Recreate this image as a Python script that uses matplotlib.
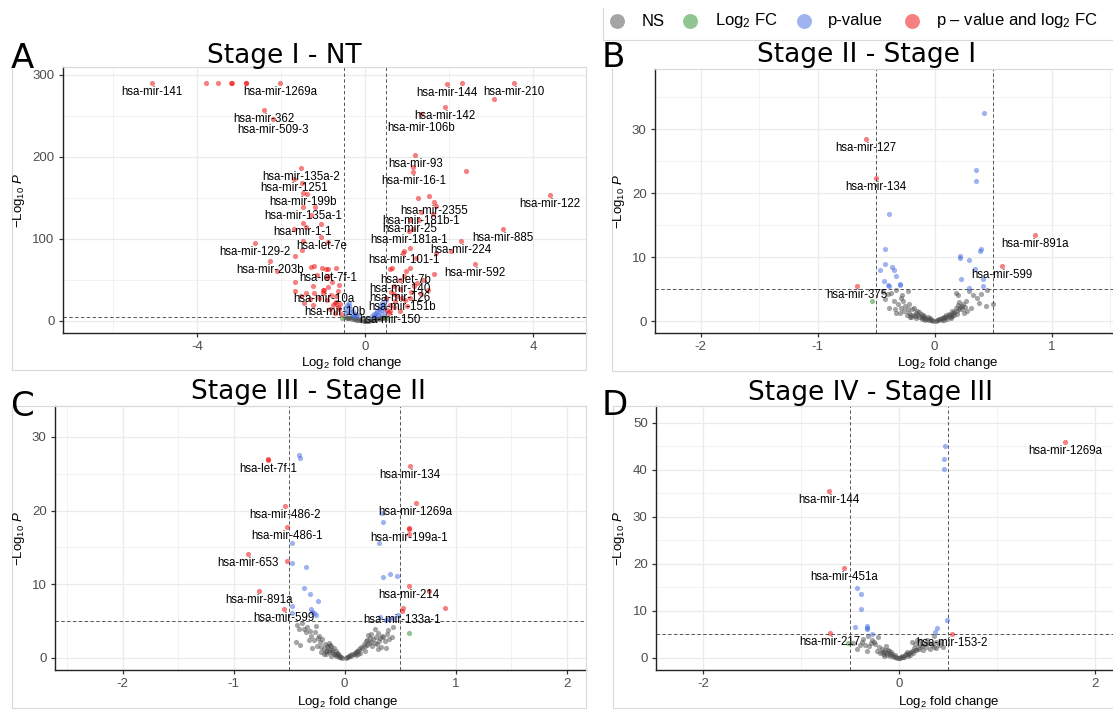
import matplotlib.pyplot as plt
import matplotlib.lines as mlines

plt.rcParams['font.family'] = ['Liberation Sans', 'DejaVu Sans']
plt.rcParams['mathtext.fontset'] = 'custom'
plt.rcParams['mathtext.rm'] = 'Liberation Sans'
plt.rcParams['mathtext.it'] = 'Liberation Sans:italic'
plt.rcParams['axes.unicode_minus'] = False

W, H = 1113, 709
COLOURS = {'ns': '#4D4D4D', 'fc': '#228B22', 'p': '#4169E1', 'both': '#EE0000'}
LEGEND_LABELS = ['NS', 'Log$_2$ FC', 'p-value', 'p – value and log$_2$ FC']

# ---------------- A: Stage I - NT ----------------
a_lab_names = ['hsa-mir-141', 'hsa-mir-1269a', 'hsa-mir-362', 'hsa-mir-509-3', 'hsa-mir-144',
               'hsa-mir-210', 'hsa-mir-142', 'hsa-mir-106b', 'hsa-mir-93', 'hsa-mir-16-1',
               'hsa-mir-122', 'hsa-mir-135a-2', 'hsa-mir-1251', 'hsa-mir-199b', 'hsa-mir-135a-1',
               'hsa-mir-1-1', 'hsa-let-7e', 'hsa-mir-129-2', 'hsa-mir-203b', 'hsa-let-7f-1',
               'hsa-mir-10a', 'hsa-mir-10b', 'hsa-mir-2355', 'hsa-mir-181b-1', 'hsa-mir-25',
               'hsa-mir-181a-1', 'hsa-mir-885', 'hsa-mir-224', 'hsa-mir-592', 'hsa-mir-101-1',
               'hsa-let-7b', 'hsa-mir-140', 'hsa-mir-126', 'hsa-mir-151b', 'hsa-mir-150']
a_lab_x = [-5.08, -2.03, -2.42, -2.19, 1.93, 3.54, 1.89, 1.32, 1.19, 1.14,
           4.40, -1.53, -1.71, -1.49, -1.48, -1.49, -1.05, -2.64, -2.28, -0.89,
           -1.00, -0.73, 1.64, 1.32, 1.05, 1.03, 3.28, 2.28, 2.60, 0.91,
           0.96, 0.82, 0.82, 0.87, 0.59]
a_lab_y = [290, 290, 257, 246, 289, 290, 261, 252, 203, 182,
           154, 187, 173, 156, 139, 119, 102, 95.5, 73, 63,
           38, 22, 145, 133, 123, 110, 112, 97, 70, 85,
           61, 50, 39, 28, 12]
a_both_x = [-3.79, -3.50, -3.19, -3.17, -2.85, -2.84, 2.30, 3.07, 1.14, 2.40,
            -1.52, -1.40, -1.19, -1.30, -1.07, -1.41, -1.71, -1.49, -0.89, -1.50, -1.67, -2.11,
            -1.30, -1.22, -1.03, -0.95, -0.70, -0.88, -1.15, -0.92, -1.67, -1.25, -0.90, -0.98,
            -0.62, -1.68, -1.42, -1.22, -1.02, -0.82, -0.69, -1.53, -1.33, -0.92, -0.71, -0.60,
            -1.25, -0.78, -0.65, -0.72, -0.64, -1.10, -0.80, -0.66, -1.47, -0.85, -0.58,
            1.25, 1.51, 1.69, 1.60, 1.28, 1.12, 1.05, 0.89, 1.69, 2.03, 1.21, 0.59, 0.62, 1.05,
            1.64, 1.22, 0.68, 1.09, 0.68, 1.32, 1.50, 0.50, 1.06, 0.68, 0.82, 0.52, 0.58, 0.95,
            0.75, 1.15, 0.92, 1.38, 0.60, 0.70, 1.00, 0.55]
a_both_y = [290, 290, 290, 290, 290, 290, 290, 271, 188, 183,
            168, 155, 139, 129, 118, 114, 112, 97, 96, 87, 79, 61,
            66, 67, 64, 63, 65, 55, 56, 52, 48, 42, 41, 38,
            44, 37, 34, 34, 34, 31, 30, 30, 27, 25, 23, 21,
            19, 19, 17, 10, 14, 28, 48, 36, 22, 15, 8,
            150, 152, 140, 131, 123, 112, 89, 83, 83, 85, 77, 63, 64, 64,
            57, 46, 42, 35, 33, 33, 38, 28, 28, 17.5, 12, 13, 20, 25,
            30, 42, 55, 50, 35, 24, 18, 10]
a_p_x = [-0.45, -0.40, -0.35, -0.30, -0.25, -0.20, -0.42, -0.48, -0.38, -0.33, -0.46, -0.28, -0.22,
         0.15, 0.20, 0.25, 0.28, 0.32, 0.35, 0.40, 0.45, 0.48, 0.38, 0.30, 0.42, 0.22, 0.46, 0.36]
a_p_y = [20, 18, 15, 12, 9, 7, 12, 16, 22, 8, 10, 6, 5.5,
         6, 8, 10, 12, 15, 18, 22, 20, 25, 13, 7, 16, 5.5, 11, 9]
a_fc_x = [-0.56, 0.52]
a_fc_y = [4.0, 3.6]
a_ns_x = [-0.48, -0.42, -0.38, -0.32, -0.28, -0.22, -0.18, -0.12, -0.08, -0.04, 0.0, 0.04, 0.08,
          0.12, 0.16, 0.20, 0.24, 0.28, 0.32, 0.36, 0.40, 0.44, -0.45, -0.35, -0.25, 0.25, 0.35,
          0.45, -0.15, 0.15]
a_ns_y = [4.5, 4.0, 3.2, 2.5, 2.2, 1.6, 1.2, 0.8, 0.5, 0.2, 0.05, 0.2, 0.4,
          0.8, 1.2, 1.6, 2.0, 2.6, 3.0, 3.5, 4.0, 4.5, 3.0, 4.5, 3.0, 4.0, 2.0,
          3.0, 2.0, 2.5]

# ---------------- B: Stage II - Stage I ----------------
b_lab_names = ['hsa-mir-127', 'hsa-mir-134', 'hsa-mir-891a', 'hsa-mir-599', 'hsa-mir-375']
b_lab_x = [-0.588, -0.503, 0.858, 0.574, -0.662]
b_lab_y = [28.4, 22.3, 13.4, 8.65, 5.54]
b_both_x = []
b_both_y = []
b_p_x = [0.42, 0.358, 0.355, -0.386, -0.423, 0.398, 0.392, 0.219, 0.219, 0.298, -0.42, -0.463,
         -0.364, -0.347, -0.33, 0.349, 0.224, 0.412, -0.432, -0.40, -0.39, -0.30, -0.298, 0.29, 0.41]
b_p_y = [32.5, 23.6, 21.9, 16.8, 11.3, 11.3, 10.9, 10.2, 9.8, 9.6, 8.96, 8.0,
         8.5, 7.9, 7.0, 8.1, 6.5, 6.5, 6.2, 5.6, 5.5, 5.8, 5.7, 5.1, 5.5]
b_fc_x = [-0.531]
b_fc_y = [3.1]
b_ns_x = [-0.44, -0.40, -0.37, -0.33, -0.28, -0.23, -0.39, -0.34, -0.30, -0.27, -0.18, -0.31,
          -0.25, -0.22, -0.20, -0.17, -0.15, -0.13, -0.12, -0.10, -0.09, -0.07, -0.05, -0.04,
          -0.02, -0.21, -0.19, -0.26, -0.35, -0.42, -0.29, -0.16, -0.11, -0.08, -0.24,
          0.01, 0.03, 0.05, 0.07, 0.09, 0.10, 0.12, 0.13, 0.15, 0.16, 0.18, 0.19, 0.20, 0.21,
          0.22, 0.18, 0.20, 0.33, 0.27, 0.40, 0.44, 0.50, 0.25, 0.23, 0.14, 0.11, 0.29, 0.31,
          0.36, 0.38, 0.08, 0.06, 0.24, 0.17, 0.45,
          -0.20, -0.18, -0.16, -0.14, -0.13, -0.11, -0.10, -0.08, -0.06, -0.05, -0.03, -0.01,
          0.02, 0.04, 0.06, 0.08, 0.10, 0.12, 0.14, 0.15, 0.17, 0.19, 0.21, 0.23, -0.23, -0.22,
          -0.29, -0.33, 0.26, 0.28]
b_ns_y = [4.5, 4.2, 4.4, 4.9, 4.0, 4.7, 2.1, 1.8, 1.3, 3.1, 2.1, 2.6,
          2.4, 1.3, 1.0, 0.8, 1.6, 0.6, 1.1, 0.4, 0.8, 0.3, 0.2, 0.5,
          0.1, 0.7, 1.8, 1.6, 3.2, 3.5, 3.6, 0.5, 0.3, 0.2, 0.9,
          0.05, 0.2, 0.3, 0.5, 0.6, 0.9, 1.1, 0.7, 1.5, 1.2, 2.0, 1.6, 2.5, 3.0,
          2.2, 4.4, 4.1, 4.0, 3.1, 4.2, 2.4, 2.7, 1.3, 1.9, 0.4, 0.3, 4.7, 2.0,
          3.6, 2.8, 0.2, 0.1, 2.7, 0.9, 4.8,
          0.6, 0.9, 1.3, 0.9, 1.4, 0.7, 1.0, 0.5, 0.6, 0.35, 0.2, 0.05,
          0.1, 0.25, 0.4, 0.6, 0.55, 0.9, 1.0, 0.8, 1.4, 1.1, 1.8, 2.4, 1.9, 2.7,
          2.0, 1.2, 2.2, 1.6]

# ---------------- C: Stage III - Stage II ----------------
c_lab_names = ['hsa-let-7f-1', 'hsa-mir-134', 'hsa-mir-1269a', 'hsa-mir-486-2', 'hsa-mir-486-1',
               'hsa-mir-199a-1', 'hsa-mir-653', 'hsa-mir-891a', 'hsa-mir-214', 'hsa-mir-599',
               'hsa-mir-133a-1']
c_lab_x = [-0.69, 0.59, 0.64, -0.54, -0.52, 0.58, -0.87, -0.77, 0.58, -0.55, 0.52]
c_lab_y = [26.9, 26.1, 21.1, 20.6, 17.8, 17.5, 14.1, 9.05, 9.8, 6.6, 6.4]
c_both_x = [-0.69, 0.58, 0.58, -0.52, 0.76, 0.90, 0.53]
c_both_y = [27.0, 17.6, 16.8, 13.2, 9.1, 6.8, 6.8]
c_p_x = [-0.41, -0.40, 0.35, 0.34, -0.47, 0.31, -0.47, -0.35, 0.35, 0.41, 0.47, -0.37, -0.31,
         -0.24, -0.47, -0.47, -0.30, -0.28, -0.26, -0.29, 0.32, 0.37, 0.40, 0.44, 0.48]
c_p_y = [27.6, 27.2, 18.5, 19.7, 15.6, 15.6, 12.9, 12.3, 11.0, 11.4, 11.1, 9.5, 8.7,
         7.7, 7.1, 6.1, 6.6, 6.1, 5.8, 6.3, 5.5, 5.2, 5.3, 5.4, 5.8]
c_fc_x = [0.58]
c_fc_y = [3.4]
c_ns_x = [-0.43, -0.38, -0.37, -0.31, -0.35, -0.27, -0.44, -0.40, -0.32, -0.28, -0.22, -0.25,
          -0.20, -0.18, -0.15, -0.13, -0.11, -0.09, -0.07, -0.05, -0.03, -0.16, -0.19, -0.14,
          -0.12, -0.10, -0.08, -0.06, -0.23, -0.29, -0.17, -0.21, -0.26, -0.41, -0.12,
          0.01, 0.03, 0.05, 0.07, 0.09, 0.11, 0.13, 0.15, 0.17, 0.19, 0.20, 0.21, 0.24, 0.26,
          0.28, 0.30, 0.32, 0.34, 0.36, 0.38, 0.40, 0.43, 0.44, 0.39, 0.22, 0.25, 0.29, 0.18,
          0.14, 0.10, 0.33, 0.37, 0.27, 0.23, 0.12,
          -0.19, -0.17, -0.16, -0.14, -0.13, -0.11, -0.10, -0.08, -0.07, -0.05, -0.04, -0.02,
          0.02, 0.04, 0.06, 0.08, 0.10, 0.12, 0.16, 0.18, 0.20, 0.24, 0.27, 0.31, 0.35, 0.30,
          -0.21, -0.24, -0.30, -0.34]
c_ns_y = [4.5, 4.7, 4.0, 3.7, 3.5, 3.5, 2.2, 1.7, 2.5, 2.4, 2.2, 1.6,
          2.6, 1.9, 1.5, 1.1, 0.8, 0.6, 0.4, 0.2, 0.1, 0.9, 1.2, 2.0,
          1.6, 1.3, 0.9, 0.5, 3.0, 1.3, 0.5, 0.8, 4.4, 3.9, 0.3,
          0.05, 0.2, 0.4, 0.5, 0.7, 0.9, 1.2, 1.5, 1.9, 2.3, 2.4, 3.1, 3.3, 2.6,
          2.9, 3.4, 2.7, 3.0, 2.3, 3.2, 2.6, 2.9, 4.2, 3.8, 2.0, 1.6, 1.9, 1.0,
          0.7, 0.4, 1.5, 1.4, 3.9, 2.7, 0.5,
          0.6, 1.0, 1.6, 0.8, 1.8, 1.1, 0.5, 0.3, 0.7, 0.4, 0.15, 0.05,
          0.1, 0.3, 0.3, 0.6, 0.8, 0.9, 1.3, 1.6, 1.8, 2.2, 2.0, 2.3, 2.8, 1.2,
          1.5, 2.7, 3.0, 4.2]

# ---------------- D: Stage IV - Stage III ----------------
d_lab_names = ['hsa-mir-1269a', 'hsa-mir-144', 'hsa-mir-451a', 'hsa-mir-217', 'hsa-mir-153-2']
d_lab_x = [1.69, -0.713, -0.564, -0.71, 0.537]
d_lab_y = [46.0, 35.5, 19.2, 5.36, 5.2]
d_both_x = []
d_both_y = []
d_p_x = [0.469, 0.452, 0.452, -0.43, -0.387, -0.39, -0.455, -0.33, -0.33, -0.33, 0.49, 0.39,
         0.37, -0.28]
d_p_y = [45.0, 42.2, 40.1, 14.9, 13.5, 10.4, 6.6, 6.9, 6.4, 6.1, 8.0, 6.3,
         5.6, 5.1]
d_fc_x = [-0.52]
d_fc_y = [3.1]
d_ns_x = [-0.47, -0.37, -0.32, -0.22, -0.26, -0.31, -0.23, -0.18, -0.15, -0.11, -0.09, -0.06,
          -0.03, 0.0, 0.02, 0.06, 0.09, 0.13, 0.16, 0.19, 0.23, 0.26, 0.31, 0.35,
          0.41, 0.45, 0.35, 0.21, 0.18, -0.40, -0.33, -0.20, -0.16, -0.13, 0.13, 0.16,
          0.28, -0.28, -0.12, 0.04, 0.11, 0.08, -0.08, 0.24, 0.30, 0.38, -0.43, -0.35,
          -0.18, -0.16, -0.14, -0.12, -0.10, -0.09, -0.07, -0.05, -0.04, -0.02, 0.01, 0.03,
          0.05, 0.07, 0.09, 0.10, 0.12, 0.14, 0.15, 0.17, 0.20, 0.22, -0.21, -0.25, 0.27, 0.33,
          0.38, -0.38, -0.29, 0.43]
d_ns_y = [3.2, 4.1, 4.7, 4.4, 3.4, 2.5, 1.5, 2.0, 1.2, 1.7, 0.8, 0.4,
          0.2, 0.05, 0.3, 0.6, 0.9, 1.5, 1.8, 2.2, 2.5, 2.9, 2.0, 2.4,
          2.8, 2.4, 4.7, 3.6, 3.8, 2.7, 1.5, 1.0, 0.4, 2.5, 3.4, 2.9,
          3.8, 3.9, 0.6, 0.15, 0.6, 1.2, 1.3, 1.6, 3.1, 2.1, 1.9, 2.8,
          1.3, 0.9, 1.6, 1.0, 1.4, 0.5, 0.9, 0.3, 0.6, 0.1, 0.1, 0.4,
          0.3, 0.8, 0.5, 1.1, 1.3, 1.0, 2.1, 1.6, 1.9, 2.8, 2.3, 2.9, 2.3, 2.7,
          3.3, 3.3, 3.2, 3.5]

# label text sits this many pixels under its point; a few were pushed further by the repel
LABEL_DROP = 9
LABEL_DROP_EXTRA = {'hsa-mir-106b': 14, 'hsa-mir-509-3': 11}

# layout, in pixels of the 1113x709 picture
PANELS = [
    dict(name='A', title='Stage I - NT', ax=(63, 67, 586, 333),
         xlim=(-7.2, 5.25), ylim=(-14.75, 309.75),
         xt=[-4, 0, 4], xm=[-6, -2, 2], yt=[0, 100, 200, 300], ym=[50, 150, 250],
         title_at=(284.5, 63), letter_at=(11, 68), xlab_at=(352, 363), ylab_at=(19, 200),
         ns=(a_ns_x, a_ns_y), fc=(a_fc_x, a_fc_y), p=(a_p_x, a_p_y),
         both=(a_both_x + a_lab_x, a_both_y + a_lab_y), labels=(a_lab_names, a_lab_x, a_lab_y)),
    dict(name='B', title='Stage II - Stage I', ax=(655, 69, 1113, 333),
         xlim=(-2.39, 1.525), ylim=(-1.875, 39.4),
         xt=[-2, -1, 0, 1], xm=[-1.5, -0.5, 0.5, 1.5], yt=[0, 10, 20, 30], ym=[5, 15, 25, 35],
         title_at=(867, 62), letter_at=(602, 67), xlab_at=(948, 363), ylab_at=(619, 201),
         ns=(b_ns_x, b_ns_y), fc=(b_fc_x, b_fc_y), p=(b_p_x, b_p_y),
         both=(b_both_x + b_lab_x, b_both_y + b_lab_y), labels=(b_lab_names, b_lab_x, b_lab_y)),
    dict(name='C', title='Stage III - Stage II', ax=(55, 406, 586, 670),
         xlim=(-2.61, 2.175), ylim=(-1.63, 34.2),
         xt=[-2, -1, 0, 1, 2], xm=[-2.5, -1.5, -0.5, 0.5, 1.5], yt=[0, 10, 20, 30], ym=[5, 15, 25],
         title_at=(308, 399), letter_at=(10, 416), xlab_at=(348, 702), ylab_at=(19, 538),
         ns=(c_ns_x, c_ns_y), fc=(c_fc_x, c_fc_y), p=(c_p_x, c_p_y),
         both=(c_both_x + c_lab_x, c_both_y + c_lab_y), labels=(c_lab_names, c_lab_x, c_lab_y)),
    dict(name='D', title='Stage IV - Stage III', ax=(656, 406, 1113, 670),
         xlim=(-2.48, 2.18), ylim=(-2.55, 53.55),
         xt=[-2, 0, 2], xm=[-1, 1], yt=[0, 10, 20, 30, 40, 50], ym=[5, 15, 25, 35, 45],
         title_at=(871, 400), letter_at=(602, 415), xlab_at=(949, 702), ylab_at=(619, 538),
         ns=(d_ns_x, d_ns_y), fc=(d_fc_x, d_fc_y), p=(d_p_x, d_p_y),
         both=(d_both_x + d_lab_x, d_both_y + d_lab_y), labels=(d_lab_names, d_lab_x, d_lab_y)),
]

BORDERS = [
    [(12, 67), (12, 370), (586, 370), (586, 67)],
    [(612, 68), (612, 371), (1113, 371)],
    [(586, 406), (12, 406), (12, 708), (586, 708), (586, 406)],
    [(1113, 406), (613, 406), (613, 708), (1113, 708)],
    [(603, 8), (603, 40), (1113, 40)],
]
LIGHT = '#D9D9D9'


def fx(px):
    return px / W


def fy(py):
    return 1 - py / H


fig = plt.figure(figsize=(W / 100, H / 100), dpi=100)

for pts in BORDERS:
    fig.add_artist(mlines.Line2D([fx(p[0]) for p in pts], [fy(p[1]) for p in pts],
                                 color=LIGHT, lw=0.8))

for pan in PANELS:
    l, t, r, b = pan['ax']
    ax = fig.add_axes([fx(l), fy(b), (r - l) / W, (b - t) / H])
    ax.set_xlim(*pan['xlim'])
    ax.set_ylim(*pan['ylim'])
    ax.set_xticks(pan['xt'])
    ax.set_xticks(pan['xm'], minor=True)
    ax.set_yticks(pan['yt'])
    ax.set_yticks(pan['ym'], minor=True)
    ax.grid(which='major', color='#EBEBEB', lw=0.9, zorder=0)
    ax.grid(which='minor', color='#EBEBEB', lw=0.45, zorder=0)
    ax.set_axisbelow(True)
    ax.tick_params(which='minor', length=0)
    ax.tick_params(which='major', length=3, width=0.9, color='#333333', labelcolor='#4D4D4D',
                   labelsize=9.5, pad=3)
    for side in ('left', 'bottom'):
        ax.spines[side].set_color('#222222')
        ax.spines[side].set_linewidth(1.0)
    ax.spines['top'].set_color(LIGHT)
    ax.spines['top'].set_linewidth(0.8)
    ax.spines['right'].set_visible(False)

    for v in (-0.5, 0.5):
        ax.axvline(v, color='#555555', lw=0.7, dashes=(3.5, 2.5), zorder=1.5)
    ax.axhline(5, color='#555555', lw=0.7, dashes=(3.5, 2.5), zorder=1.5)

    for key in ('ns', 'fc', 'p', 'both'):
        xs, ys = pan[key]
        ax.scatter(xs, ys, s=14, color=COLOURS[key], alpha=0.5, linewidths=0, zorder=2)

    names, lx, ly = pan['labels']
    for n, x, y in zip(names, lx, ly):
        drop = LABEL_DROP_EXTRA.get(n, LABEL_DROP) if pan['name'] == 'A' else LABEL_DROP
        ax.annotate(n, (x, y), xytext=(0, -drop), textcoords='offset pixels', ha='center',
                    va='center', fontsize=8.3, color='black', zorder=4)

    fig.text(fx(pan['title_at'][0]), fy(pan['title_at'][1]), pan['title'], ha='center',
             va='baseline', fontsize=19, family='DejaVu Sans')
    fig.text(fx(pan['letter_at'][0]), fy(pan['letter_at'][1]), pan['name'], ha='left',
             va='baseline', fontsize=24.5, family='DejaVu Sans')
    fig.text(fx(pan['xlab_at'][0]), fy(pan['xlab_at'][1]), 'Log$_2$ fold change', ha='center',
             va='center', fontsize=9.5)
    fig.text(fx(pan['ylab_at'][0]), fy(pan['ylab_at'][1]), '$-$Log$_{10}$ $\\mathit{P}$',
             ha='center', va='center', fontsize=9.5, rotation=90)

# legend strip at the top right
lg = fig.add_axes([fx(603), fy(40), (W - 603) / W, 32 / H])
lg.set_xlim(603, W)
lg.set_ylim(40, 8)
lg.axis('off')
leg_dot_x = [617, 690, 804, 912]
leg_text_x = [642, 715, 828, 936]
for key, dx, tx, lab in zip(('ns', 'fc', 'p', 'both'), leg_dot_x, leg_text_x, LEGEND_LABELS):
    lg.scatter([dx], [21], s=115, color=COLOURS[key], alpha=0.5, linewidths=0)
    lg.text(tx, 21, lab, ha='left', va='center', fontsize=12)

fig.savefig('out.png', dpi=100)
